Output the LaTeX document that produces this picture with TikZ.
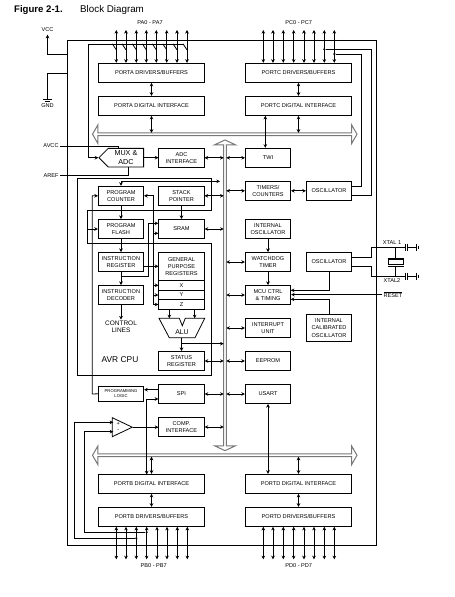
\documentclass[tikz,border=0pt]{standalone}
\usepackage{fontspec}
\setmainfont{Liberation Sans}
\usepackage{xcolor}
\usepackage{tikz}
\usetikzlibrary{shapes.geometric, shapes.arrows, shapes.symbols, arrows.meta, calc}
\definecolor{busgray}{RGB}{120, 120, 120}

\begin{document}
\begin{tikzpicture}[
    x=1pt, y=-1pt,
    block/.style={rectangle, draw=black, line width=0.8pt, minimum width=45.4pt, minimum height=19.2pt, inner sep=0pt, font=\fontsize{5.6}{7.2}\selectfont, align=center},
    wideblock/.style={block, minimum width=106.4pt},
    label/.style={font=\fontsize{5.6}{6.6}\selectfont, inner sep=1.5pt, align=center},
    bus/.style={double arrow, draw=busgray, fill=white, line width=1pt, inner sep=0pt, outer sep=0pt, double arrow head extend=2.8pt, double arrow tip angle=120},
    tapdot/.style={circle, fill=black, inner sep=0pt, minimum size=2.4pt},
    line/.style={line width=0.8pt},
    arrow/.style={line, -{Stealth[length=3.6pt,width=3.6pt]}},
    biarrow/.style={line, {Stealth[length=3.6pt,width=3.6pt]}-{Stealth[length=3.6pt,width=3.6pt]}}
]
\useasboundingbox (0,0) rectangle (455,597);

% Title
\node[anchor=west, font=\fontsize{9.6}{11}\selectfont\bfseries, inner sep=0pt] (figno) at (14,10) {Figure 2-1.};
\node[anchor=west, font=\fontsize{9.8}{11}\selectfont, inner sep=0pt] (figtitle) at (80,10) {Block Diagram};

% Chip outline and buses
\node[draw, line width=0.8pt, minimum width=309.3pt, minimum height=504.5pt, inner sep=0pt] (chip) at (222.05,292.75) {};
\node[bus, shape border rotate=90, minimum height=310.7pt, minimum width=21pt, double arrow head extend=3.5pt, double arrow tip angle=130] (busv) at (225,295.3) {};
\node[bus, minimum height=264.5pt, minimum width=19pt] (busa) at (224.75,134.2) {};
\node[bus, minimum height=264.5pt, minimum width=19pt] (busb) at (224.75,455.3) {};

% AVR CPU outline
\draw[line] (77.3,178.7) -- (211.7,178.7) -- (211.7,210.7) -- (87.3,210.7) -- (87.3,243.3) -- (211.7,243.3) -- (211.7,375.3) -- (77.3,375.3) -- cycle;
\node[font=\fontsize{8.4}{10}\selectfont, inner sep=0pt] (avrcpu) at (120,360) {AVR CPU};

% Supply and analog labels
\node[label, inner sep=3pt] (vcc) at (47.5,29.5) {VCC};
\node[label] (gnd) at (47.5,106) {GND};
\node[label] (avcc) at (51,146) {AVCC};
\node[label] (aref) at (51,175.5) {AREF};
\coordinate (vccin) at (67.4,54);
\coordinate (gndin) at (67.4,73);
\coordinate (gndsym) at (47.5,99);
\draw[arrow] (vccin) -| (vcc.south);
\draw[line] (gndin) -| (gndsym);
\draw[line] (43.3,99.3) -- (51.7,99.3) (45,101.2) -- (50,101.2);

% Port A
\node[wideblock] (portadrv) at (151.5,72.8) {PORTA DRIVERS/BUFFERS};
\node[wideblock] (portadig) at (151.5,105.8) {PORTA DIGITAL INTERFACE};
\node[label] (palabel) at (150,23) {PA0 - PA7};
\coordinate (adcl) at (88.3,44.3);
\coordinate (adcr) at (183,44.3);
\foreach \i/\x in {0/116.3,1/126,2/136.3,3/146.3,4/156.3,5/166.7,6/177,7/187} {
    \coordinate (pa\i) at (\x,30);
    \draw[biarrow] (pa\i) -- (pa\i |- portadrv.north);
    \draw[line] ($(pa\i |- adcl)+(-4,-0.5)$) -- ++(4,6);
}
\draw[biarrow] (portadrv) -- (portadig);
\draw[biarrow] (portadig.south) -- (portadig.south |- busa.north);

% Port C
\node[wideblock] (portcdrv) at (298.5,72.8) {PORTC DRIVERS/BUFFERS};
\node[wideblock] (portcdig) at (298.5,105.8) {PORTC DIGITAL INTERFACE};
\node[label] (pclabel) at (298.7,23) {PC0 - PC7};
\foreach \i/\x in {0/263.3,1/273,2/283.3,3/293.7,4/304,5/314,6/324.3,7/334.3} {
    \coordinate (pc\i) at (\x,30);
    \draw[biarrow] (pc\i) -- (pc\i |- portcdrv.north);
}
\draw[biarrow] (portcdrv) -- (portcdig);
\draw[biarrow] (portcdig.south) -- (portcdig.south |- busa.north);

% ADC
\node[signal, signal to=west, draw, line width=0.8pt, inner sep=0pt, minimum width=44.7pt, minimum height=18.7pt, font=\fontsize{7.2}{8.4}\selectfont, align=center, anchor=east] (mux) at (144,157.7) {MUX \&\\ADC};
\node[block] (adcif) at (181.5,157.8) {ADC\\INTERFACE};
\coordinate (muxa) at (118.7,148.3);
\coordinate (muxb) at (128.7,167);
\draw[arrow] (adcr) -- (adcl) |- (mux.west);
\draw[line] (avcc.east) -| (muxa);
\draw[line] (aref.east) -| (muxb);
\draw[arrow] (mux.east) -- (mux.east -| adcif.west);
\draw[biarrow] (adcif.east) -- (adcif.east -| busv.west);

% Right column
\node[block] (twi) at (268,157.8) {TWI};
\node[block] (timers) at (268,190.8) {TIMERS/\\COUNTERS};
\node[block] (osca) at (329,190.8) {OSCILLATOR};
\node[block] (intosc) at (268,229) {INTERNAL\\OSCILLATOR};
\node[block] (wdt) at (268,262) {WATCHDOG\\TIMER};
\node[block] (oscb) at (329,262) {OSCILLATOR};
\node[block] (mcu) at (268,295) {MCU CTRL\\\& TIMING};
\node[block, minimum height=27.4pt] (calosc) at (329,328) {INTERNAL\\CALIBRATED\\OSCILLATOR};
\node[block] (irq) at (268,328) {INTERRUPT\\UNIT};
\node[block] (eeprom) at (268,361) {EEPROM};
\node[block] (usart) at (268,394) {USART};
\foreach \n in {twi,timers,wdt,mcu,irq,eeprom,usart} {
    \draw[biarrow] (\n.west) -- (\n.west -| busv.east);
}
\draw[biarrow] ([xshift=-2.7pt]twi.north) -- ([xshift=-2.7pt]twi.north |- portcdig.south);
\draw[biarrow] (timers) -- (osca);
\draw[arrow] (intosc) -- (wdt);
\draw[arrow] (wdt) -- (mcu);

% Oscillator lines to port C
\node[tapdot] (tapc6) at (324.3,49.3) {};
\node[tapdot] (tapc7) at (334.3,54) {};
\coordinate (turnc6) at (371.7,49.3);
\coordinate (turnc7) at (361.7,54);
\coordinate (oscin6) at (351.7,195.3);
\coordinate (oscin7) at (351.7,186);
\draw[line] (tapc6) -- (turnc6) |- (oscin6);
\draw[line] (tapc7) -- (turnc7) |- (oscin7);

% Clock inputs of MCU control
\node[label, inner sep=1pt] (reset) at (393,294.6) {$\overline{\mbox{RESET}}$};
\coordinate (mcua) at (290.7,290.3);
\coordinate (mcub) at (290.7,299.3);
\draw[arrow] (oscb.south) |- (mcua);
\draw[arrow] (calosc.north) |- (mcub);
\draw[arrow] (reset.west) -- (reset.west -| mcu.east);

% Crystal
\node[label] (xtala) at (392,243) {XTAL 1};
\node[label] (xtalb) at (392,281) {XTAL2};
\coordinate (xin1) at (351.7,257.3);
\coordinate (xin2) at (351.7,266.7);
\coordinate (xturn1) at (371.7,257.3);
\coordinate (xturn2) at (371.7,266.7);
\coordinate (capa) at (405,247.5);
\coordinate (capb) at (405,276.3);
\draw[line] (xin1) -- (xturn1) |- (capa);
\draw[line] (xin2) -- (xturn2) |- (capb);
\node[draw, line width=0.8pt, inner sep=0pt, minimum width=15pt, minimum height=5pt] (crystal) at (395.7,261.8) {};
\draw[line] (395.7,247.5) -- (395.7,258.3);
\draw[line] (395.7,266.7) -- (395.7,276.3);
\draw[line] (387.5,258.3) -- (404,258.3) (387.5,266.7) -- (404,266.7);
\foreach \c in {capa,capb} {
    \draw[line] ($(\c)+(0,-3.7)$) -- ($(\c)+(0,3.7)$);
    \draw[line] ($(\c)+(2.8,-3.7)$) -- ($(\c)+(2.8,3.7)$);
    \draw[line] ($(\c)+(2.8,0)$) -- ($(\c)+(11,0)$);
    \draw[line width=1.2pt] ($(\c)+(11.5,-3.7)$) -- ($(\c)+(11.5,3.7)$);
    \draw[line] ($(\c)+(13.5,-1.8)$) -- ($(\c)+(13.5,1.8)$);
}

% CPU blocks
\node[block] (progcnt) at (121,195.8) {PROGRAM\\COUNTER};
\node[block] (stack) at (181.5,195.8) {STACK\\POINTER};
\node[block] (flash) at (121,229) {PROGRAM\\FLASH};
\node[block] (sram) at (181.5,229) {SRAM};
\node[block] (instreg) at (121,262) {INSTRUCTION\\REGISTER};
\node[block] (instdec) at (121,295) {INSTRUCTION\\DECODER};
\node[block, minimum height=28pt] (gpr) at (181.5,266.3) {GENERAL\\PURPOSE\\REGISTERS};
\node[block, minimum height=10pt] (regx) at (181.5,285.3) {X};
\node[block, minimum height=9.4pt] (regy) at (181.5,295) {Y};
\node[block, minimum height=9.6pt] (regz) at (181.5,304.5) {Z};
\node[label, font=\fontsize{6.5}{7}\selectfont] (ctrl) at (121,327) {CONTROL\\LINES};
\node[block] (status) at (181.5,361) {STATUS\\REGISTER};

% ALU
\draw[line] (159,318.3) -- (179.3,318.3) -- (182.3,325.7) -- (185.3,318.3) -- (204.7,318.3) -- (195,337.7) -- (169.3,337.7) -- cycle;
\node[font=\fontsize{6.9}{8}\selectfont, inner sep=0pt] (alu) at (182,332) {ALU};
\coordinate (alua) at (169.3,318.3);
\coordinate (alub) at (194.7,318.3);
\coordinate (aluout) at (181.5,337.7);
\coordinate (alutap) at (181.5,343.7);

% CPU connections
\coordinate (pctap) at (220,181.3);
\coordinate (plturn) at (92.3,394);
\coordinate (flashin) at (87.3,229);
\coordinate (dbus) at (153.3,304.5);
\coordinate (sramhi) at (158.3,223.3);
\coordinate (sramlo) at (158.3,233.3);
\coordinate (irtap) at (121,276);
\coordinate (irturn) at (148.3,276);
\draw[biarrow] (pctap) -| (progcnt.north);
\draw[arrow] (progcnt) -- (flash);
\draw[arrow] (flash) -- (instreg);
\draw[arrow] (instreg) -- (instdec);
\draw[arrow] (instdec) -- (ctrl);
\draw[arrow] (flashin) -- (flash.west);
\draw[biarrow] (progcnt.east) -| (dbus) -- (regz.west);
\draw[arrow] (dbus |- regx.west) -- (regx.west);
\draw[arrow] (dbus |- regy.west) -- (regy.west);
\draw[arrow] (dbus |- sramlo) -- (sramlo);
\draw[arrow] (irtap) -- (irturn) |- (sramhi);
\draw[arrow] (gpr.west -| instreg.east) -- (gpr.west);
\draw[arrow] (stack) -- (sram);
\draw[arrow] (alua |- regz.south) -- (alua);
\draw[arrow] (alub |- regz.south) -- (alub);
\draw[arrow] (aluout) -- (status.north);
\draw[arrow] (alutap) -- (alutap -| busv.west);
\foreach \n in {stack,sram,status} {
    \draw[biarrow] (\n.east) -- (\n.east -| busv.west);
}

% SPI, comparator
\node[block, minimum height=15pt, font=\fontsize{4.2}{5}\selectfont] (proglogic) at (121,393.8) {PROGRAMMING\\LOGIC};
\node[block] (spi) at (181.5,394) {SPI};
\node[block] (compif) at (181.5,427) {COMP.\\INTERFACE};
\node[isosceles triangle, isosceles triangle stretches, draw, line width=0.8pt, inner sep=0pt, minimum width=19pt, minimum height=20pt, anchor=apex] (comp) at (133.3,427.2) {};
\node[label, inner sep=0pt] (plus) at (118.3,424) {+};
\node[label, inner sep=0pt] (minus) at (118.3,431) {-};
\coordinate (cmpp) at (113.3,422.3);
\coordinate (cmpm) at (113.3,431.7);
\coordinate (spihi) at (158.3,389.7);
\coordinate (spilo) at (158.3,399);
\draw[arrow] (proglogic.west) -- (plturn) |- (progcnt.west);
\draw[arrow] (spihi) -- (spihi -| proglogic.east);
\draw[biarrow] (spi.east) -- (spi.east -| busv.west);
\draw[biarrow] (compif.east) -- (compif.east -| busv.west);
\draw[arrow] (comp.apex) -- (comp.apex -| compif.west);

% Port B
\node[wideblock] (portbdig) at (151.5,483.8) {PORTB DIGITAL INTERFACE};
\node[wideblock] (portbdrv) at (151.5,516.8) {PORTB DRIVERS/BUFFERS};
\node[label] (pblabel) at (153.7,565.7) {PB0 - PB7};
\foreach \i/\x in {0/116.3,1/126,2/136.3,3/146.7,4/157,5/167,6/177.3,7/187.3} {
    \coordinate (pb\i) at (\x,559.3);
    \draw[biarrow] (pb\i) -- (pb\i |- portbdrv.south);
}
\draw[biarrow] (portbdig) -- (portbdrv);
\draw[biarrow] (portbdig.north) -- (portbdig.north |- busb.south);
\coordinate (spiport) at (146.7,474.4);
\draw[biarrow] (spilo) -| (spiport);
\node[tapdot] (tapb2) at (136.3,538.3) {};
\node[tapdot] (tapb3) at (146.7,532.3) {};
\coordinate (ainp) at (74.3,538.3);
\coordinate (ainm) at (84.7,532.3);
\draw[arrow] (tapb2) -- (ainp) |- (cmpp);
\draw[arrow] (tapb3) -- (ainm) |- (cmpm);

% Port D
\node[wideblock] (portddig) at (298.5,483.8) {PORTD DIGITAL INTERFACE};
\node[wideblock] (portddrv) at (298.5,516.8) {PORTD DRIVERS/BUFFERS};
\node[label] (pdlabel) at (298.7,565.7) {PD0 - PD7};
\foreach \i/\x in {0/263.3,1/273,2/283.3,3/293.7,4/304,5/314,6/324.3,7/334.3} {
    \coordinate (pd\i) at (\x,559.3);
    \draw[biarrow] (pd\i) -- (pd\i |- portddrv.south);
}
\draw[biarrow] (portddig) -- (portddrv);
\draw[biarrow] (portddig.north) -- (portddig.north |- busb.south);
\draw[biarrow] (usart.south) -- (usart.south |- portddig.north);
\end{tikzpicture}
\end{document}
